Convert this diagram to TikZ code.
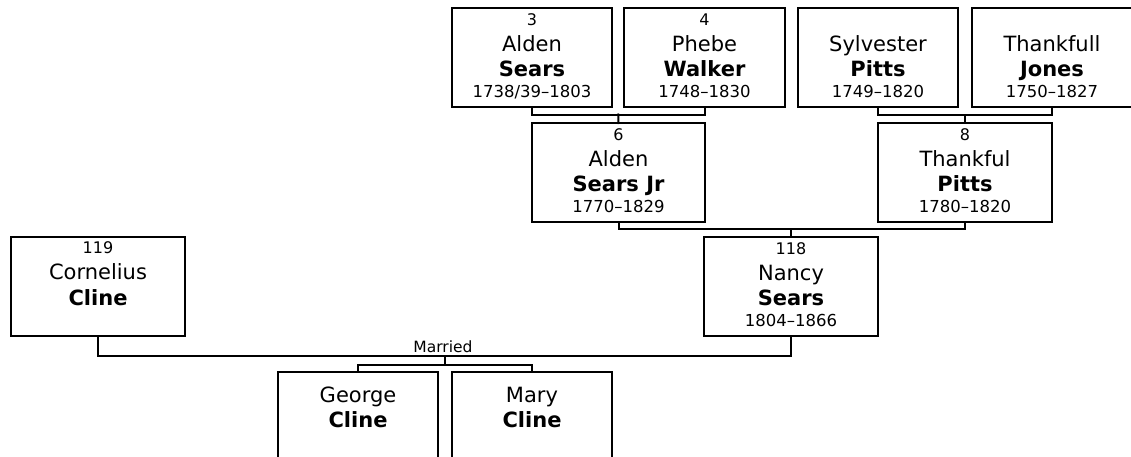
\documentclass[tikz,border=0pt]{standalone}
\usepackage{fontspec}
\setmainfont{DejaVu Sans}
\tikzset{
  cardbox/.style={draw=black, line width=2pt, fill=white, rectangle, inner sep=0pt, outer sep=0pt, minimum height=99pt},
  numlab/.style={anchor=base, inner sep=0pt, font=\fontsize{16}{19}\selectfont},
  marrlab/.style={anchor=base, inner sep=0pt, font=\fontsize{15.5}{18}\selectfont},
  givenlab/.style={anchor=base, inner sep=0pt, font=\fontsize{21}{25}\selectfont},
  surlab/.style={anchor=base, inner sep=0pt, font=\fontsize{21}{25}\selectfont\bfseries},
  datelab/.style={anchor=base, inner sep=0pt, font=\fontsize{16.5}{19}\selectfont},
  link/.style={draw=black, line width=2pt, line cap=rect}
}
% #1 node name, #2 x, #3 y, #4 width, #5 number, #6 given, #7 surname, #8 dates
\newcommand\famcard[8]{%
  \node[cardbox, minimum width=#4pt] (#1) at (#2,#3) {};
  \node[numlab] (#1-n) at ([yshift=-17pt]#1.north) {#5};
  \node[givenlab] (#1-g) at ([yshift=-43pt]#1.north) {#6};
  \node[surlab] (#1-s) at ([yshift=-68.5pt]#1.north) {#7};
  \node[datelab] (#1-d) at ([yshift=-89pt]#1.north) {#8};
}
\begin{document}
\begin{tikzpicture}[x=1pt, y=-1pt]
\useasboundingbox (0,0) rectangle (1131,456);
\clip (0,0) rectangle (1131,456);
\fill[white] (0,0) rectangle (1131,456);

% generation 1
\famcard{b3}{532}{57.5}{160}{3}{Alden}{Sears}{1738/39–1803}
\famcard{b4}{704.5}{57.5}{161}{4}{Phebe}{Walker}{1748–1830}
\famcard{b5}{878}{57.5}{160}{}{Sylvester}{Pitts}{1749–1820}
\famcard{b7}{1052}{57.5}{160}{}{Thankfull}{Jones}{1750–1827}
% generation 2
\famcard{b6}{618.5}{172.5}{173}{6}{Alden}{Sears Jr}{1770–1829}
\famcard{b8}{965}{172.5}{174}{8}{Thankful}{Pitts}{1780–1820}
% generation 3
\famcard{b118}{791}{286.5}{174}{118}{Nancy}{Sears}{1804–1866}
\famcard{b119}{98}{286}{174}{119}{Cornelius}{Cline}{}

% children
\node[cardbox, minimum width=160pt, minimum height=100pt] (george) at (358,422) {};
\node[givenlab] (george-g) at ([yshift=-30pt]george.north) {George};
\node[surlab] (george-s) at ([yshift=-55pt]george.north) {Cline};
\node[cardbox, minimum width=160pt, minimum height=100pt] (mary) at (532,422) {};
\node[givenlab] (mary-g) at ([yshift=-30pt]mary.north) {Mary};
\node[surlab] (mary-s) at ([yshift=-55pt]mary.north) {Cline};

% junction points
\coordinate (j34) at (618.25,114.5);
\coordinate (j57) at (965,114.5);
\coordinate (j68) at (791,229);
\coordinate (jm) at (445,356);
\coordinate (jc) at (445,364.5);

% connectors
\draw[link] (b3.south) |- (j34) -| (b4.south);
\draw[link] (j34) -- (b6.north);
\draw[link] (b5.south) |- (j57) -| (b7.south);
\draw[link] (j57) -- (b8.north);
\draw[link] (b6.south) |- (j68) -| (b8.south);
\draw[link] (j68) -- (b118.north);
\draw[link] (b119.south) |- (jm) -| (b118.south);
\node[marrlab] (married) at (443,352) {Married};
\draw[link] (jm) -- (jc);
\draw[link] (george.north) |- (jc) -| (mary.north);
\end{tikzpicture}
\end{document}
